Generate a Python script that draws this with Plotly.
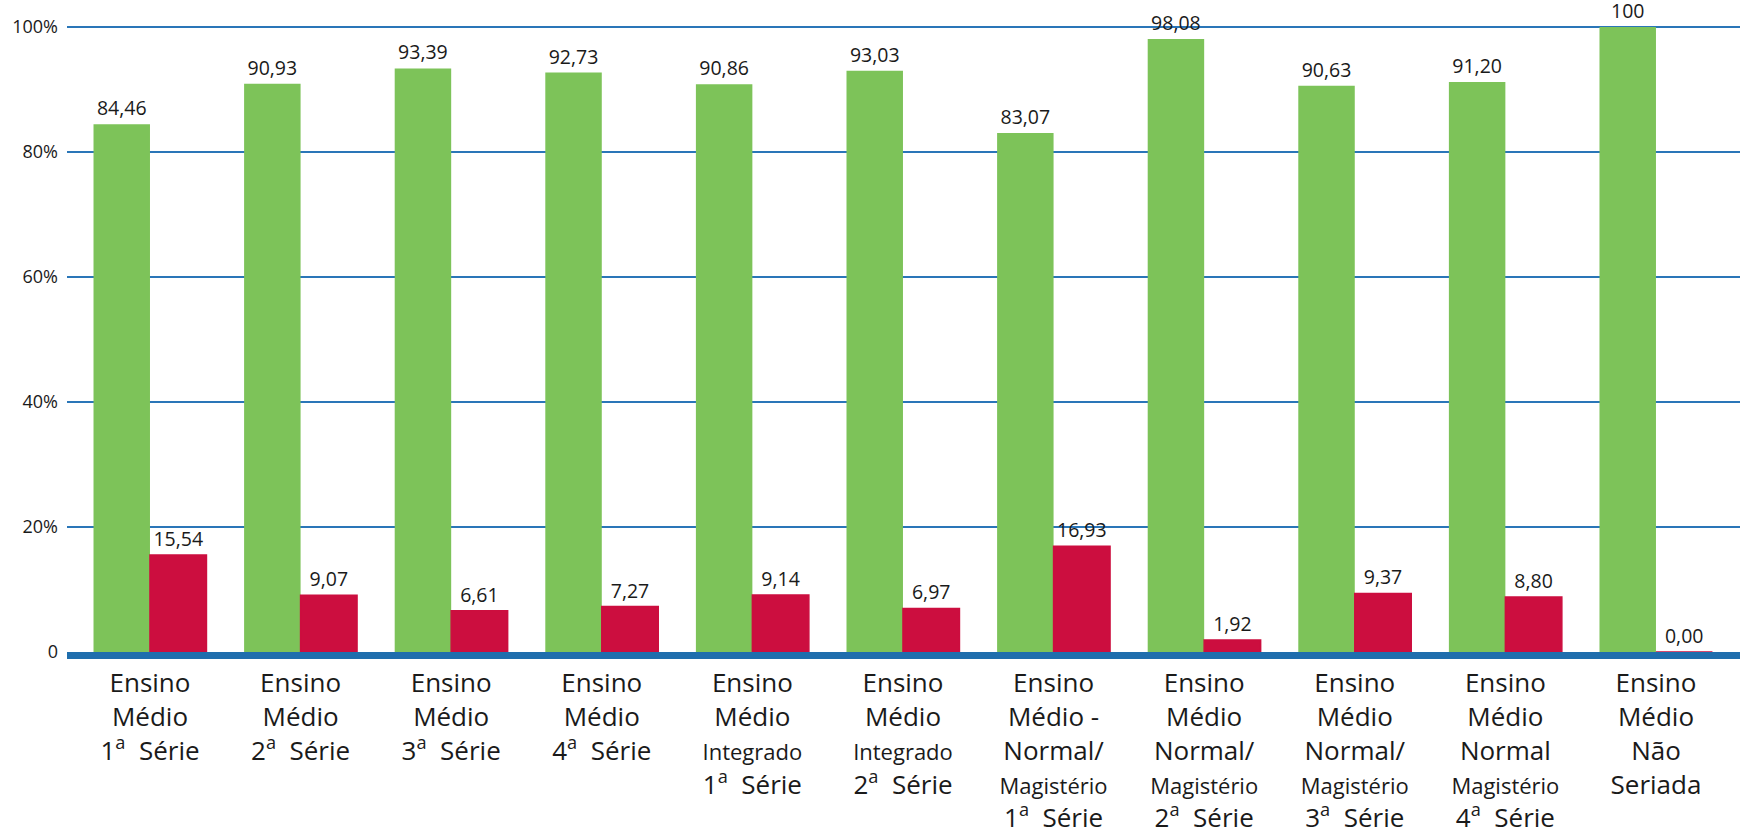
import plotly.graph_objects as go

categories = [
    "Ensino<br>Médio<br>1<sup>a</sup>\u00a0 Série",
    "Ensino<br>Médio<br>2<sup>a</sup>\u00a0 Série",
    "Ensino<br>Médio<br>3<sup>a</sup>\u00a0 Série",
    "Ensino<br>Médio<br>4<sup>a</sup>\u00a0 Série",
    "Ensino<br>Médio<br><span style='font-size:22px'>Integrado</span><br>1<sup>a</sup>\u00a0 Série",
    "Ensino<br>Médio<br><span style='font-size:22px'>Integrado</span><br>2<sup>a</sup>\u00a0 Série",
    "Ensino<br>Médio -<br>Normal/<br><span style='font-size:22px'>Magistério</span><br>1<sup>a</sup>\u00a0 Série",
    "Ensino<br>Médio<br>Normal/<br><span style='font-size:22px'>Magistério</span><br>2<sup>a</sup>\u00a0 Série",
    "Ensino<br>Médio<br>Normal/<br><span style='font-size:22px'>Magistério</span><br>3<sup>a</sup>\u00a0 Série",
    "Ensino<br>Médio<br>Normal<br><span style='font-size:22px'>Magistério</span><br>4<sup>a</sup>\u00a0 Série",
    "Ensino<br>Médio<br>Não<br>Seriada",
]

green_values = [84.46, 90.93, 93.39, 92.73, 90.86, 93.03, 83.07, 98.08, 90.63, 91.20, 100]
red_values = [15.54, 9.07, 6.61, 7.27, 9.14, 6.97, 16.93, 1.92, 9.37, 8.80, 0.00]

green_labels = ["84,46", "90,93", "93,39", "92,73", "90,86", "93,03", "83,07", "98,08", "90,63", "91,20", "100"]
red_labels = ["15,54", "9,07", "6,61", "7,27", "9,14", "6,97", "16,93", "1,92", "9,37", "8,80", "0,00"]

y_tick_vals = [0, 20, 40, 60, 80, 100]
y_tick_text = ["0", "20%", "40%", "60%", "80%", "100%"]

FONT = "Open Sans"
GREEN = "#7dc359"
RED = "#cc0e3f"
BLUE = "#1f6ead"

x = list(range(len(categories)))

fig = go.Figure()
fig.add_trace(go.Bar(
    x=x, y=green_values, marker=dict(color=GREEN, line=dict(width=0)),
    text=green_labels, textposition="outside", cliponaxis=False,
    textfont=dict(family=FONT, size=19.5, color="#1a1a1a"), textangle=0,
    hoverinfo="skip", showlegend=False,
))
fig.add_trace(go.Bar(
    x=x, y=red_values, marker=dict(color=RED, line=dict(width=1.5, color=RED)),
    text=red_labels, textposition="outside", cliponaxis=False,
    textfont=dict(family=FONT, size=19.5, color="#1a1a1a"), textangle=0,
    hoverinfo="skip", showlegend=False,
))

fig.update_layout(
    width=1742, height=831,
    margin=dict(l=67, r=2, t=24, b=178.5),
    paper_bgcolor="white", plot_bgcolor="white",
    barmode="group", bargap=0.25, bargroupgap=0,
    font=dict(family=FONT, color="#1a1a1a"),
    xaxis=dict(
        tickmode="array", tickvals=x, ticktext=categories, automargin=False,
        range=[-0.551, 10.558], showgrid=False, zeroline=False,
        showline=True, linecolor=BLUE, linewidth=7,
        ticks="", ticklabelstandoff=2,
        tickfont=dict(family=FONT, size=26, color="#1a1a1a"),
        tickangle=0,
    ),
    yaxis=dict(
        range=[0, 100.5], tickmode="array", tickvals=y_tick_vals, ticktext=y_tick_text,
        automargin=False,
        showgrid=True, gridcolor="#2a76b8", gridwidth=1.5, zeroline=False,
        showline=False, ticks="", ticklabelstandoff=8,
        tickfont=dict(family=FONT, size=18, color="#1a1a1a"),
    ),
)

fig.write_html(
    "out.html",
    config={"displayModeBar": False, "staticPlot": True},
    post_script="document.body.style.margin='0';document.body.style.overflow='hidden';",
)
